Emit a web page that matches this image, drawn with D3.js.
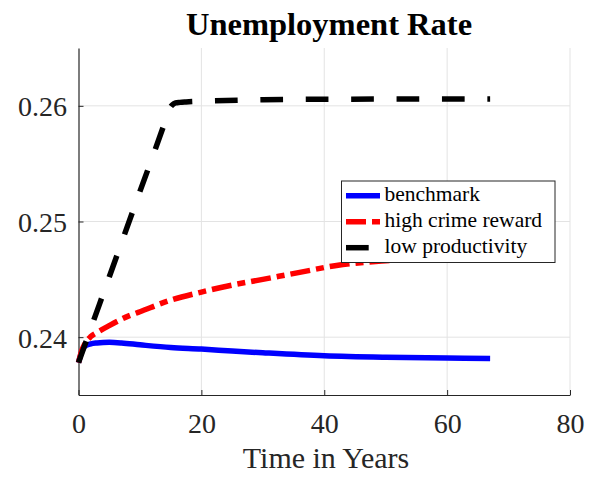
<!DOCTYPE html>
<html><head><meta charset="utf-8">
<script src="https://cdn.jsdelivr.net/npm/d3@7"></script>
<style>
body{margin:0;background:#fff;}
svg{display:block;}
</style></head>
<body><svg id="c" width="596" height="477"></svg>
<script>
// ---- data ----
const benchT = [0, 0.5, 1, 2, 3, 4, 5, 7, 10, 15, 20, 25, 30, 40, 50, 60, 67];
const benchV = [0.2378, 0.2387, 0.2392, 0.23942, 0.2395, 0.23954, 0.23955, 0.2395, 0.23934, 0.2391, 0.23897, 0.2388, 0.23865, 0.23839, 0.23826, 0.23819, 0.23816];
const crimeT = [0, 0.5, 1, 2, 3, 5, 8, 10, 15, 20, 25, 30, 36, 42, 50, 58, 67];
const crimeV = [0.2378, 0.2388, 0.2394, 0.24005, 0.2404, 0.2410, 0.2418, 0.2422, 0.2432, 0.2439, 0.2445, 0.2450, 0.2456, 0.2462, 0.2466, 0.2468, 0.2469];
const lowT = [0, 5, 10, 14, 14.8, 15.3, 15.8, 16.5, 17.5, 20, 30, 40, 67];
const lowV = [0.2378, 0.2452, 0.2526, 0.2585, 0.25975, 0.2601, 0.26025, 0.2603, 0.26034, 0.2604, 0.26052, 0.26057, 0.2606];
const seriesNames = ["benchmark", "high crime reward", "low productivity"];
const xTicks = [0, 20, 40, 60, 80];
const yTicks = [0.24, 0.25, 0.26];
const xDomain = [0, 80];
const yDomain = [0.235, 0.265];
const titleText = "Unemployment Rate";
const xLabel = "Time in Years";

// ---- layout ----
const FONT = "'Liberation Serif', 'DejaVu Serif', 'Noto Serif', serif";
const L = 78.5, R = 570, T = 48, B = 395;
const svg = d3.select("#c");
const x = d3.scaleLinear().domain(xDomain).range([L, R]);
const y = d3.scaleLinear().domain(yDomain).range([B, T]);
const axisCol = "#262626", gridCol = "#e3e3e3";

// grid
svg.append("g").selectAll("line").data(xTicks.slice(1)).join("line")
  .attr("x1", d => x(d)).attr("x2", d => x(d)).attr("y1", T).attr("y2", B)
  .attr("stroke", gridCol).attr("stroke-width", 1);
svg.append("g").selectAll("line").data(yTicks).join("line")
  .attr("x1", L).attr("x2", R).attr("y1", d => y(d)).attr("y2", d => y(d))
  .attr("stroke", gridCol).attr("stroke-width", 1);

// axes
const gx = svg.append("g").attr("transform", `translate(0,${B})`)
  .call(d3.axisBottom(x).tickValues(xTicks).tickFormat(d3.format("d")).tickSize(-5).tickSizeOuter(0));
gx.selectAll("text").attr("y", 38).attr("dy", 0);
const gy = svg.append("g").attr("transform", `translate(${L},0)`)
  .call(d3.axisLeft(y).tickValues(yTicks).tickFormat(d3.format(".2f")).tickSize(-5).tickSizeOuter(0).tickPadding(11.5));
gy.selectAll("text").attr("dy", "0.36em");
[gx, gy].forEach(g => {
  g.attr("font-family", FONT).attr("font-size", 28);
  g.selectAll("text").attr("fill", axisCol).style("font-family", FONT).style("font-size", "28px");
  g.select(".domain").attr("stroke", axisCol).attr("stroke-width", 1.2);
  g.selectAll(".tick line").attr("stroke", axisCol).attr("stroke-width", 1);
});

// lines
const styles = [
  {color: "#0000ff", dash: null},
  {color: "#ff0000", dash: "20,6,8,6"},
  {color: "#000000", dash: "22.7,22.7"}
];
const data = [
  benchT.map((t, i) => [t, benchV[i]]),
  crimeT.map((t, i) => [t, crimeV[i]]),
  lowT.map((t, i) => [t, lowV[i]])
];
const line = d3.line().x(d => x(d[0])).y(d => y(d[1])).curve(d3.curveMonotoneX);
data.forEach((d, i) => {
  svg.append("path").datum(d).attr("d", line)
    .attr("fill", "none").attr("stroke", styles[i].color)
    .attr("stroke-width", 5.5)
    .attr("stroke-dasharray", styles[i].dash);
});

// title & label
svg.append("text").attr("x", 329).attr("y", 35).attr("text-anchor", "middle")
  .style("font-family", FONT).style("font-size", "32.5px").style("font-weight", "bold")
  .attr("fill", "#000").text(titleText);
svg.append("text").attr("x", 326).attr("y", 468).attr("text-anchor", "middle")
  .style("font-family", FONT).style("font-size", "30px").attr("fill", axisCol).text(xLabel);

// legend
const lg = svg.append("g");
lg.append("rect").attr("x", 341.5).attr("y", 181).attr("width", 213.5).attr("height", 81.5)
  .attr("fill", "#fff").attr("stroke", axisCol).attr("stroke-width", 1);
const rowY = [195.7, 221.7, 247.7];
seriesNames.forEach((n, i) => {
  lg.append("line").attr("x1", 346).attr("x2", 380).attr("y1", rowY[i]).attr("y2", rowY[i])
    .attr("stroke", styles[i].color).attr("stroke-width", 5.5)
    .attr("stroke-dasharray", styles[i].dash);
  lg.append("text").attr("x", 384.5).attr("y", rowY[i] + 5.5)
    .style("font-family", FONT).style("font-size", "21.5px").attr("fill", "#000").text(n);
});
</script></body></html>
